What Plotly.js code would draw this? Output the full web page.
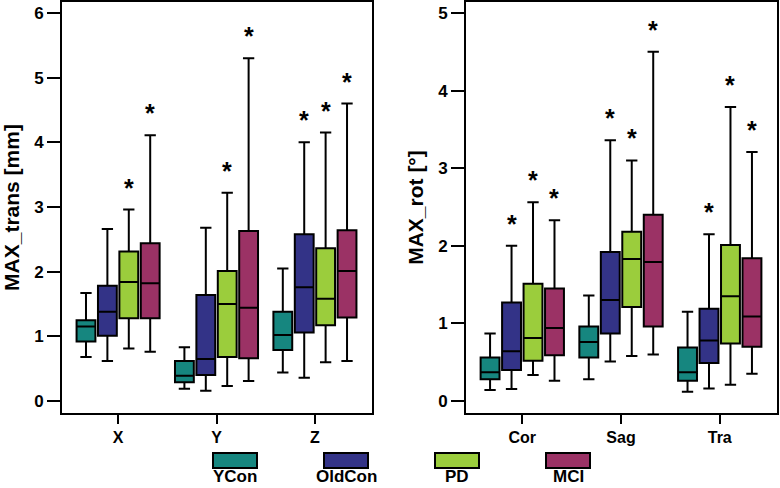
<!DOCTYPE html>
<html>
<head>
<meta charset="utf-8">
<script src="https://cdn.plot.ly/plotly-3.0.1.min.js"></script>
<style>
  html, body { margin: 0; padding: 0; background: #fff; }
  #chart { width: 780px; height: 488px; }
</style>
</head>
<body>
<div id="chart"></div>
<script>
// groups and categories
var groups = ['YCon', 'OldCon', 'PD', 'MCI'];
var transCats = ['X', 'Y', 'Z'];
var rotCats = ['Cor', 'Sag', 'Tra'];

// MAX_trans [mm]  (rows = groups, cols = X, Y, Z)
var transLower  = [[0.68, 0.19, 0.44], [0.62, 0.16, 0.36], [0.81, 0.23, 0.60], [0.76, 0.31, 0.62]];
var transQ1     = [[0.92, 0.29, 0.79], [1.01, 0.40, 1.06], [1.28, 0.68, 1.17], [1.28, 0.66, 1.29]];
var transMedian = [[1.15, 0.39, 1.02], [1.38, 0.65, 1.76], [1.84, 1.50, 1.58], [1.82, 1.44, 2.01]];
var transQ3     = [[1.25, 0.62, 1.38], [1.78, 1.64, 2.58], [2.31, 2.01, 2.36], [2.44, 2.63, 2.64]];
var transUpper  = [[1.67, 0.83, 2.05], [2.66, 2.68, 4.00], [2.96, 3.22, 4.15], [4.11, 5.30, 4.60]];
var transStars  = [[0, 0, 0], [0, 0, 1], [1, 1, 1], [1, 1, 1]];

// MAX_rot [°]  (rows = groups, cols = Cor, Sag, Tra)
var rotLower  = [[0.14, 0.28, 0.12], [0.155, 0.51, 0.16], [0.335, 0.58, 0.21], [0.26, 0.60, 0.35]];
var rotQ1     = [[0.28, 0.56, 0.26], [0.40, 0.87, 0.49], [0.52, 1.21, 0.74], [0.59, 0.96, 0.70]];
var rotMedian = [[0.37, 0.76, 0.37], [0.64, 1.30, 0.78], [0.81, 1.83, 1.35], [0.94, 1.79, 1.09]];
var rotQ3     = [[0.56, 0.96, 0.69], [1.27, 1.92, 1.19], [1.51, 2.18, 2.01], [1.45, 2.40, 1.84]];
var rotUpper  = [[0.87, 1.36, 1.15], [2.00, 3.36, 2.15], [2.56, 3.10, 3.79], [2.33, 4.50, 3.21]];
var rotStars  = [[0, 0, 0], [1, 1, 1], [1, 1, 1], [1, 1, 1]];

var colors = ['#16867f', '#333387', '#9bcd3c', '#9b3265'];

var W = 780, H = 488;
var M = {l: 62, r: 3, t: 2, b: 75};
var pw = W - M.l - M.r, ph = H - M.t - M.b;
function px(p) { return (p - M.l) / pw; }
function py(p) { return (M.t + ph - p) / ph; }

var boxgap = 0.13;
var slot = (1 - boxgap) / groups.length;
var font = {family: 'Liberation Sans, Arial, sans-serif', weight: 'bold', color: '#000'};

var data = [];
var annotations = [];

function addPanel(key, cats, lo, q1, med, q3, up, stars, xa, ya) {
    groups.forEach(function (g, i) {
        data.push({
            type: 'box',
            name: g,
            x: cats,
            lowerfence: lo[i],
            q1: q1[i],
            median: med[i],
            q3: q3[i],
            upperfence: up[i],
            xaxis: xa,
            yaxis: ya,
            alignmentgroup: key,
            offsetgroup: g,
            fillcolor: colors[i],
            line: {color: '#000', width: 2},
            whiskerwidth: 0.6,
            showlegend: false,
            hoverinfo: 'skip'
        });
        // significance stars above the upper whisker
        stars[i].forEach(function (s, j) {
            if (!s) return;
            annotations.push({
                xref: xa, yref: ya,
                x: j + (i - 1.5) * slot,
                y: up[i][j],
                text: '*',
                showarrow: false,
                yanchor: 'middle',
                yshift: 22,
                font: Object.assign({}, font, {size: 25})
            });
        });
    });
}

addPanel('trans', transCats, transLower, transQ1, transMedian, transQ3, transUpper, transStars, 'x', 'y');
addPanel('rot', rotCats, rotLower, rotQ1, rotMedian, rotQ3, rotUpper, rotStars, 'x2', 'y2');

// custom legend: swatch above label
var shapes = [];
groups.forEach(function (g, i) {
    var c = 235 + i * 111;
    shapes.push({
        type: 'rect', xref: 'paper', yref: 'paper',
        x0: px(c - 22), x1: px(c + 22), y0: py(468), y1: py(453),
        fillcolor: colors[i], line: {color: '#000', width: 2}
    });
    annotations.push({
        xref: 'paper', yref: 'paper', x: px(c), y: py(488),
        text: g, showarrow: false, xanchor: 'center', yanchor: 'bottom',
        font: Object.assign({}, font, {size: 17})
    });
});

var xaxisBase = {
    type: 'category',
    range: [-0.57, 2.58],
    showline: true, mirror: true, linewidth: 2, linecolor: '#000',
    ticks: 'outside', ticklen: 9, tickwidth: 2, tickcolor: '#000',
    showgrid: false, zeroline: false,
    tickfont: Object.assign({}, font, {size: 16}),
    fixedrange: true
};
var yaxisBase = {
    showline: true, mirror: true, linewidth: 2, linecolor: '#000',
    ticks: 'outside', ticklen: 13, tickwidth: 2, tickcolor: '#000',
    showgrid: false, zeroline: false, dtick: 1,
    tickfont: Object.assign({}, font, {size: 17}),
    fixedrange: true
};

var layout = {
    width: W, height: H,
    margin: M,
    paper_bgcolor: '#fff', plot_bgcolor: '#fff',
    boxmode: 'group',
    boxgap: boxgap,
    boxgroupgap: 0.12,
    showlegend: false,
    xaxis: Object.assign({}, xaxisBase, {domain: [0, px(372)], anchor: 'y'}),
    yaxis: Object.assign({}, yaxisBase, {
        range: [-0.186, 6.17], anchor: 'x',
        title: {text: 'MAX_trans [mm]', font: Object.assign({}, font, {size: 21}), standoff: 9}
    }),
    xaxis2: Object.assign({}, xaxisBase, {domain: [px(466), 1], anchor: 'y2'}),
    yaxis2: Object.assign({}, yaxisBase, {
        range: [-0.155, 5.142], anchor: 'x2',
        title: {text: 'MAX_rot [°]', font: Object.assign({}, font, {size: 21}), standoff: 9}
    }),
    shapes: shapes,
    annotations: annotations
};

Plotly.newPlot('chart', data, layout, {displayModeBar: false, staticPlot: true});
</script>
</body>
</html>
